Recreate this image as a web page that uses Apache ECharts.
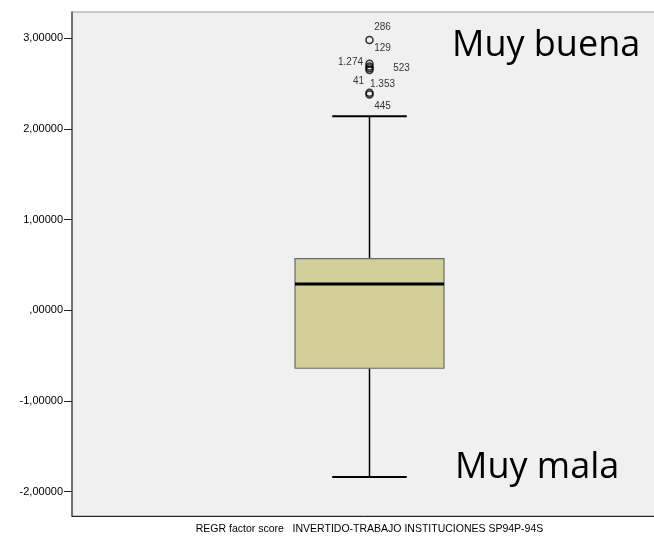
<!DOCTYPE html>
<html>
<head>
<meta charset="utf-8">
<script src="https://cdn.jsdelivr.net/npm/echarts@6/dist/echarts.min.js"></script>
<style>
  html, body { margin: 0; padding: 0; background: #fff; }
  #main { width: 654px; height: 536px; }
</style>
</head>
<body>
<div id="main"></div>
<script>
// datos del boxplot
var categorias = ['REGR factor score   INVERTIDO-TRABAJO INSTITUCIONES SP94P-94S'];
var cajaStats = [-1.84, -0.64, 0.29, 0.57, 2.14]; // min, Q1, mediana, Q3, max
var atipicos = [2.98, 2.72, 2.69, 2.67, 2.65, 2.40, 2.38];
var atipicosEtiq = ['286', '129', '1.274', '523', '1.353', '41', '445'];
var ticksY = [-2, -1, 0, 1, 2, 3];

// desplazamiento de cada etiqueta (solo estilo)
var etiqOffset = [[13, -13], [13, -15], [-19, -4], [32, 0], [13, 14], [-11, -11], [13, 12]];

window.onload = function () {
    var myChart = echarts.init(document.getElementById('main'));

    var puntos = atipicos.map(function (v, i) {
        return {
            value: [0, v],
            label: { show: true, formatter: atipicosEtiq[i], offset: etiqOffset[i] }
        };
    });

    function formatoES(v) {
        var s = Math.abs(v).toFixed(5).replace('.', ',');
        if (s.charAt(0) === '0') s = s.substring(1);
        return (v < 0 ? '-' : '') + s;
    }

    var option = {
        backgroundColor: '#fff',
        animation: false,
        grid: {
            left: 72, top: 12, right: -13, bottom: 20,
            outerBoundsMode: 'none',
            containLabel: false,
            show: true,
            backgroundColor: '#f0f0f0',
            borderColor: '#9a9a9a',
            borderWidth: 1
        },
        xAxis: {
            type: 'category',
            data: categorias,
            boundaryGap: true,
            axisLine: { onZero: false, lineStyle: { color: '#222', width: 1 } },
            axisTick: { alignWithLabel: true, length: 5, lineStyle: { color: '#222' } },
            axisLabel: { color: '#000', fontFamily: 'Liberation Sans', fontSize: 10.5, margin: 8 },
            splitLine: { show: false }
        },
        yAxis: {
            type: 'value',
            min: -2.27,
            max: 3.29,
            axisLine: { show: true, lineStyle: { color: '#555', width: 1.5 } },
            axisTick: { show: true, length: 8, customValues: ticksY, lineStyle: { color: '#222' } },
            axisLabel: {
                customValues: ticksY,
                color: '#000', fontFamily: 'Liberation Sans', fontSize: 11, margin: 9,
                formatter: formatoES
            },
            splitLine: { show: false }
        },
        series: [
            {
                type: 'custom',
                data: [[0].concat(cajaStats)],
                renderItem: function (params, api) {
                    var x = api.value(0);
                    var banda = api.size([1, 0])[0];
                    var w = 149 * banda / 595;
                    var pMin = api.coord([x, api.value(1)]);
                    var pQ1 = api.coord([x, api.value(2)]);
                    var pMed = api.coord([x, api.value(3)]);
                    var pQ3 = api.coord([x, api.value(4)]);
                    var pMax = api.coord([x, api.value(5)]);
                    var cx = pMin[0];
                    var negro = { stroke: '#000', lineWidth: 1.5 };
                    return {
                        type: 'group',
                        children: [
                            { type: 'line', shape: { x1: cx, y1: pMax[1], x2: cx, y2: pQ3[1] }, style: negro },
                            { type: 'line', shape: { x1: cx, y1: pQ1[1], x2: cx, y2: pMin[1] }, style: negro },
                            { type: 'line', shape: { x1: cx - w / 4, y1: pMax[1], x2: cx + w / 4, y2: pMax[1] }, style: { stroke: '#000', lineWidth: 2 } },
                            { type: 'line', shape: { x1: cx - w / 4, y1: pMin[1], x2: cx + w / 4, y2: pMin[1] }, style: { stroke: '#000', lineWidth: 2 } },
                            { type: 'rect', shape: { x: cx - w / 2, y: pQ3[1], width: w, height: pQ1[1] - pQ3[1] },
                              style: { fill: '#d3cf98', stroke: '#6a6a6a', lineWidth: 1.2 } },
                            { type: 'line', shape: { x1: cx - w / 2, y1: pMed[1], x2: cx + w / 2, y2: pMed[1] }, style: { stroke: '#000', lineWidth: 3 } }
                        ]
                    };
                }
            },
            {
                type: 'scatter',
                data: puntos,
                symbol: 'circle',
                symbolSize: 7,
                itemStyle: { color: 'rgba(0,0,0,0)', borderColor: '#000', borderWidth: 1.5 },
                label: { position: 'inside', color: '#000', fontFamily: 'Liberation Sans', fontSize: 10 },
                z: 5
            }
        ],
        graphic: [
            { type: 'text', left: 452, top: 28,
              style: { text: 'Muy buena', font: '36px "Open Sans"', fill: '#000' } },
            { type: 'text', left: 455, top: 450,
              style: { text: 'Muy mala', font: '36px "Open Sans"', fill: '#000' } }
        ]
    };
    myChart.setOption(option);
};
</script>
</body>
</html>
